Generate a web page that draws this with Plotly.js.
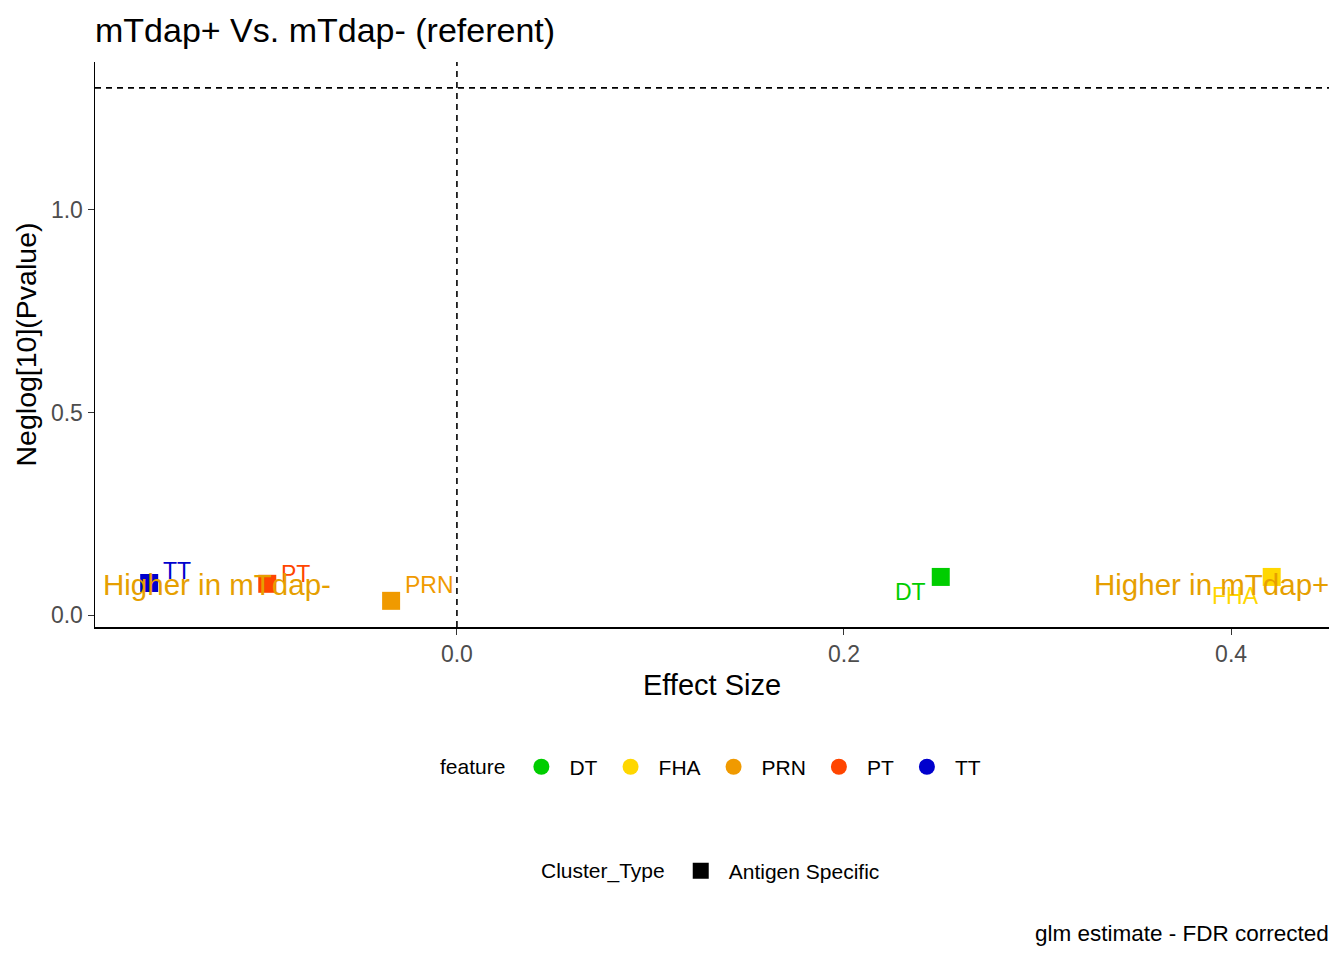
<!DOCTYPE html>
<html>
<head>
<meta charset="utf-8">
<script src="https://cdn.plot.ly/plotly-3.0.1.min.js"></script>
<style>
  html, body { margin: 0; padding: 0; background: #fff; }
  #chart { width: 1344px; height: 960px; }
</style>
</head>
<body>
<div id="chart"></div>
<script>
(function () {

	'use strict';

	// data
	const features = [ 'DT', 'FHA', 'PRN', 'PT', 'TT' ];
	const effectSize = [ 0.250, 0.421, -0.034, -0.098, -0.159 ];
	const negLogP = [ 0.094, 0.094, 0.035, 0.077, 0.079 ];
	const featureColors = [ '#00CD00', '#FFD700', '#F09A00', '#FF4500', '#0000CD' ];

	// label nudges (pixels) so text sits where ggrepel put it
	const labelShiftX = [ -30, -36, 38, 28, 28 ];
	const labelShiftY = [ -15, -19, 16, 10, 12 ];

	const pCutoff = 0.05;
	const xRange = [ -0.187, 0.4506 ];
	const yRange = [ -0.0296, 1.365 ];

	const font = 'Liberation Sans, Arial, sans-serif';
	const higherColor = '#E69F00';

	/**
	* point traces (one per feature, no legend entry)
	*/
	const pointTraces = features.map( ( f, i ) => ({
		x: [ effectSize[i] ],
		y: [ negLogP[i] ],
		type: 'scatter',
		mode: 'markers',
		marker: { symbol: 'square', size: 18, color: featureColors[i] },
		showlegend: false,
		hoverinfo: 'skip'
	}));

	// legend-only traces: feature as circles
	const featureLegend = features.map( ( f, i ) => ({
		x: [ null ],
		y: [ null ],
		type: 'scatter',
		mode: 'markers',
		name: f,
		marker: { symbol: 'circle', size: 19, color: featureColors[i] },
		legend: 'legend'
	}));

	const clusterLegend = {
		x: [ null ],
		y: [ null ],
		type: 'scatter',
		mode: 'markers',
		name: 'Antigen Specific',
		marker: { symbol: 'square', size: 19, color: '#000' },
		legend: 'legend2'
	};

	/**
	* annotations: feature labels + direction text + caption
	*/
	const labels = features.map( ( f, i ) => ({
		x: effectSize[i],
		y: negLogP[i],
		xref: 'x', yref: 'y',
		text: f,
		showarrow: false,
		xshift: labelShiftX[i],
		yshift: labelShiftY[i],
		font: { family: font, size: 23, color: featureColors[i] }
	}));

	const extras = [
		{
			x: 0, xref: 'paper', xanchor: 'left', xshift: 6,
			y: 0.0765, yref: 'y', yanchor: 'middle',
			text: 'Higher in mTdap-', showarrow: false,
			font: { family: font, size: 29.5, color: higherColor }
		},
		{
			x: 1, xref: 'paper', xanchor: 'right', xshift: 2,
			y: 0.0765, yref: 'y', yanchor: 'middle',
			text: 'Higher in mTdap+', showarrow: false,
			font: { family: font, size: 29.5, color: higherColor }
		},
		{
			x: 1, xref: 'paper', xanchor: 'right', xshift: 2,
			y: -0.5416, yref: 'paper', yanchor: 'middle',
			text: 'glm estimate - FDR corrected', showarrow: false,
			font: { family: font, size: 22.5, color: '#000' }
		}
	];

	const layout = {
		width: 1344,
		height: 960,
		paper_bgcolor: '#fff',
		plot_bgcolor: '#fff',
		margin: { l: 95, r: 15, t: 62, b: 333 },
		font: { family: font, color: '#000' },
		title: {
			text: 'mTdap+ Vs. mTdap- (referent)',
			x: 95 / 1344, xanchor: 'left',
			y: 1 - 30 / 960, yanchor: 'middle',
			font: { family: font, size: 34, color: '#000' }
		},
		xaxis: {
			range: xRange,
			tickvals: [ 0, 0.2, 0.4 ],
			tickformat: '.1f',
			showgrid: false, zeroline: false,
			showline: true, linecolor: '#000', linewidth: 1.5,
			ticks: 'outside', ticklen: 6, tickcolor: '#333',
			tickfont: { family: font, size: 23, color: '#4D4D4D' },
			title: { text: 'Effect Size', standoff: 8, font: { family: font, size: 29, color: '#000' } }
		},
		yaxis: {
			range: yRange,
			tickvals: [ 0, 0.5, 1.0 ],
			tickformat: '.1f',
			showgrid: false, zeroline: false,
			showline: true, linecolor: '#000', linewidth: 1.5,
			ticks: 'outside', ticklen: 6, tickcolor: '#333',
			tickfont: { family: font, size: 23, color: '#4D4D4D' },
			title: { text: 'Neglog[10](Pvalue)', standoff: 6, font: { family: font, size: 28.5, color: '#000' } }
		},
		shapes: [
			{
				type: 'line', xref: 'paper', x0: 0, x1: 1,
				yref: 'y', y0: -Math.log10( pCutoff ), y1: -Math.log10( pCutoff ),
				line: { color: '#000', width: 1.6, dash: '6px,5px' }
			},
			{
				type: 'line', xref: 'x', x0: 0, x1: 0,
				yref: 'paper', y0: 0, y1: 1,
				line: { color: '#000', width: 1.6, dash: '6px,5px' }
			}
		],
		annotations: labels.concat( extras ),
		legend: {
			orientation: 'h',
			x: 0.5, xanchor: 'center',
			y: -0.248, yanchor: 'middle',
			title: { text: 'feature', side: 'left', font: { family: font, size: 21 } },
			font: { family: font, size: 21, color: '#000' },
			itemwidth: 46,
			traceorder: 'normal'
		},
		legend2: {
			orientation: 'h',
			x: 0.5, xanchor: 'center',
			y: -0.432, yanchor: 'middle',
			title: { text: 'Cluster_Type', side: 'left', font: { family: font, size: 21 } },
			font: { family: font, size: 21, color: '#000' },
			itemwidth: 46
		},
		showlegend: true
	};

	Plotly.newPlot(
		document.getElementById( 'chart' ),
		pointTraces.concat( featureLegend, [ clusterLegend ] ),
		layout,
		{ displayModeBar: false, staticPlot: true }
	);

})();
</script>
</body>
</html>
